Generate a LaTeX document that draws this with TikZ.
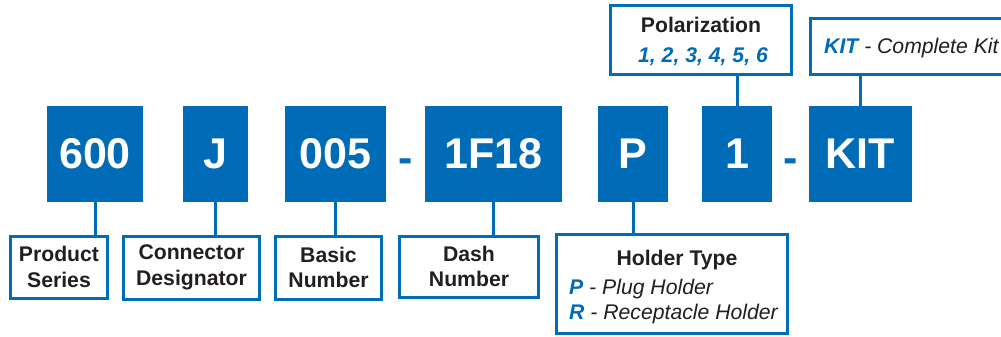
\documentclass[tikz,border=0pt]{standalone}
\usepackage{fontspec}
\setmainfont{Liberation Sans}
\definecolor{pnblue}{RGB}{0,107,182}
\definecolor{pndark}{RGB}{35,31,32}
\tikzset{
  x=1pt, y=-1pt,
  codebox/.style={fill=pnblue, draw=none, inner sep=0pt, text=white,
    font=\fontsize{43}{48}\selectfont\bfseries},
  labbox/.style={draw=pnblue, line width=3pt, fill=white, inner sep=0pt,
    align=center, text=pndark, font=\fontsize{21.2}{25.5}\selectfont\bfseries},
  conn/.style={draw=pnblue, line width=3pt},
  sep/.style={text=pnblue, inner sep=0pt, anchor=base,
    font=\fontsize{43}{48}\selectfont\bfseries},
  txt/.style={inner sep=0pt, text=pndark, font=\fontsize{21.2}{25.5}\selectfont},
}
\newcommand{\bl}[1]{\textcolor{pnblue}{\bfseries\itshape #1}}
\begin{document}
\begin{tikzpicture}
\useasboundingbox (0,0) rectangle (1001,337);
\clip (0,0) rectangle (1001,337);
% code boxes
\node[codebox, minimum width=96pt, minimum height=96pt] (c600) at (95,154) {600};
\node[codebox, minimum width=65pt, minimum height=96pt] (cj) at (215.5,154) {J};
\node[codebox, minimum width=101pt, minimum height=96pt] (c005) at (335.5,154) {005};
\node[codebox, minimum width=137pt, minimum height=96pt] (cdash) at (493.5,154) {1F18};
\node[codebox, minimum width=70pt, minimum height=96pt] (cp) at (633,154) {P};
\node[codebox, minimum width=70pt, minimum height=96pt] (c1) at (737,154) {1};
\node[codebox, minimum width=103pt, minimum height=96pt] (ckit) at (860.5,154) {KIT};
\node[sep] (s1) at (405.5,172) {-};
\node[sep] (s2) at (790.5,172) {-};
% label boxes
\node[labbox, minimum width=97pt, minimum height=62pt] (ps) at (59,267) {Product\\Series};
\node[labbox, minimum width=136pt, minimum height=63pt] (cd) at (191.5,267.5) {Connector\\Designator};
\node[labbox, minimum width=106pt, minimum height=63pt] (bn) at (328.5,267.5) {Basic\\Number};
\node[labbox, minimum width=139pt, minimum height=61pt] (dn) at (469,266.5) {Dash\\Number};
\node[labbox, minimum width=231pt, minimum height=99pt] (ht) at (672,284) {};
\node[labbox, minimum width=181pt, minimum height=69pt] (pol) at (701,40) {};
\node[labbox, minimum width=200pt, minimum height=56pt] (kl) at (910.5,46.5) {};
% texts inside open boxes
\node[txt, anchor=base, font=\fontsize{21.2}{25.5}\selectfont\bfseries] (polt) at (701,33) {Polarization};
\node[txt, anchor=base] (poln) at (703,63) {\bl{1, 2, 3, 4, 5, 6}};
\node[txt, anchor=base west] (klt) at (824,53) {\bl{KIT}\itshape\ - Complete Kit};
\node[txt, anchor=base, font=\fontsize{21.2}{25.5}\selectfont\bfseries] (htt) at (677,265) {Holder Type};
\node[txt, anchor=base west] (htp) at (569,294) {\bl{P}\itshape\ - Plug Holder};
\node[txt, anchor=base west] (htr) at (569,319) {\bl{R}\itshape\ - Receptacle Holder};
% connectors
\draw[conn] (c600.south) -- (c600.south |- ps.north);
\draw[conn] (cj.south) -- (cj.south |- cd.north);
\draw[conn] (c005.south) -- (c005.south |- bn.north);
\draw[conn] (cdash.south) -- (cdash.south |- dn.north);
\draw[conn] (cp.south) -- (cp.south |- ht.north);
\draw[conn] (c1.north) -- (c1.north |- pol.south);
\draw[conn] (ckit.north) -- (ckit.north |- kl.south);
\end{tikzpicture}
\end{document}
